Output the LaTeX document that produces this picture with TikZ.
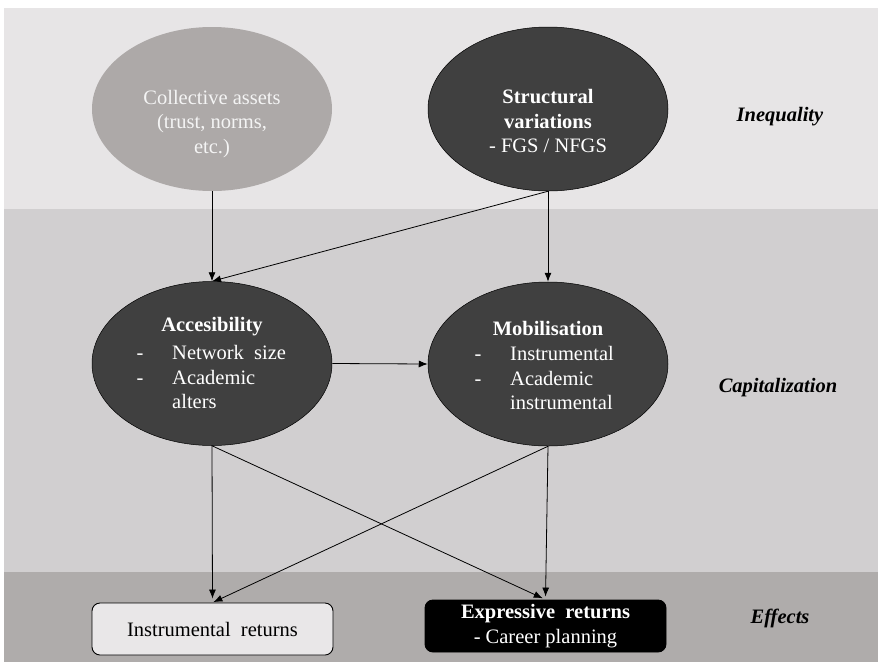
\documentclass[tikz,border=0pt]{standalone}
\usepackage{fontspec}
\setmainfont{Liberation Serif}
\usetikzlibrary{shapes.geometric,arrows.meta}
\definecolor{bandA}{HTML}{E7E5E6}
\definecolor{bandB}{HTML}{D1CFD0}
\definecolor{bandC}{HTML}{AFACAB}
\definecolor{lightell}{HTML}{ADA9A8}
\definecolor{darkell}{HTML}{404040}
\definecolor{lightbox}{HTML}{E9E7E8}
\definecolor{paletxt}{HTML}{F4F4F4}
\begin{document}
\begin{tikzpicture}[x=1pt,y=-1pt,
  font=\fontsize{20.5}{24.5}\selectfont,
  ell/.style={ellipse, minimum width=240pt, minimum height=164pt, inner sep=0pt, draw=black, line width=0.5pt},
  rbox/.style={rectangle, rounded corners=8pt, minimum width=241pt, minimum height=52pt, inner sep=0pt, draw=black, line width=0.9pt},
  txt/.style={inner sep=0pt, align=center},
  wtxt/.style={txt, text=white},
  lab/.style={txt, font=\fontsize{20.5}{24}\selectfont\bfseries\itshape},
  arr/.style={-{Latex[length=9pt,width=7pt]}, line width=0.8pt},
]
\useasboundingbox (0,0) rectangle (878,662);
\fill[white] (0,0) rectangle (878,662);
\fill[bandA] (4,8) rectangle (878,209);
\fill[bandB] (4,209) rectangle (878,572);
\fill[bandC] (4,572) rectangle (878,662);

% ellipses
\node[ell, fill=lightell, draw=none] (col) at (212,109) {};
\node[ell, fill=darkell] (str) at (548,109) {};
\node[ell, fill=darkell] (acc) at (212,363.5) {};
\node[ell, fill=darkell] (mob) at (548,364) {};

% boxes
\node[rbox, fill=lightbox] (ins) at (212.5,629) {Instrumental\ \ returns};
\node[rbox, fill=black, text=white, align=center, font=\fontsize{20.5}{25}\selectfont] (exp) at (545.5,626) {\textbf{Expressive\ \ returns}\\- Career planning};

% texts in ellipses
\node[txt, text=paletxt] (colt) at (212,124) {Collective assets\\(trust, norms,\\etc.)};
\node[wtxt] (strt) at (548,121) {\textbf{Structural}\\\textbf{variations}\\- FGS / NFGS};

\node[wtxt, font=\fontsize{20.5}{24}\selectfont\bfseries] (acct) at (212,327) {Accesibility};
\node[wtxt, anchor=base] (accd1) at (140,359) {-};
\node[wtxt, anchor=base] (accd2) at (140,384) {-};
\node[wtxt, anchor=base west] (acc1) at (172,359) {Network\ \ size};
\node[wtxt, anchor=base west] (acc2) at (172,384) {Academic};
\node[wtxt, anchor=base west] (acc3) at (172,408) {alters};

\node[wtxt, font=\fontsize{20.5}{24}\selectfont\bfseries] (mobt) at (548,328) {Mobilisation};
\node[wtxt, anchor=base] (mobd1) at (478,360) {-};
\node[wtxt, anchor=base] (mobd2) at (478,385) {-};
\node[wtxt, anchor=base west] (mob1) at (510,360) {Instrumental};
\node[wtxt, anchor=base west] (mob2) at (510,385) {Academic};
\node[wtxt, anchor=base west] (mob3) at (510,409) {instrumental};

% side labels
\node[lab] (ineq) at (780,117) {Inequality};
\node[lab] (cap) at (778,388) {Capitalization};
\node[lab] (eff) at (780,618) {Effects};

% connectors
\draw[arr] (col.south) -- (acc.north);
\draw[arr] (str.south) -- (acc.north);
\draw[arr] (str.south) -- (mob.north);
\draw[arr] (acc.east) -- (mob.west);
\draw[arr, shorten >=4pt] (acc.south) -- (ins.north);
\draw[arr, shorten >=3pt] (acc.south) -- (exp.north);
\draw[arr, shorten >=1pt] (mob.south) -- (ins.north);
\draw[arr, shorten >=3pt] (mob.south) -- (exp.north);
\end{tikzpicture}
\end{document}
